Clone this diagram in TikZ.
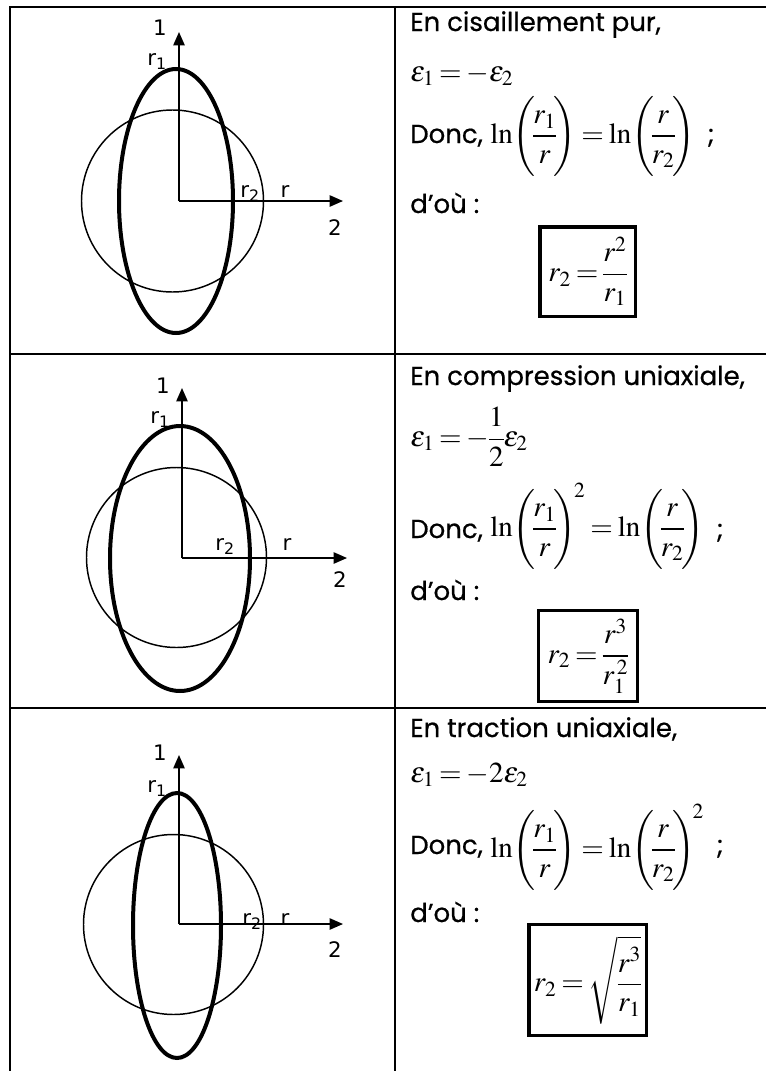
\documentclass[tikz,border=0pt]{standalone}
\usepackage{amsmath}
\usepackage{graphicx}
\usepackage{mathptmx}
\usepackage[no-math]{fontspec}
\setmainfont{Poppins}[UprightFeatures={FakeBold=0.6}]
\newfontfamily\lblfont{DejaVu Sans}
\usetikzlibrary{arrows.meta,calc}
\newcommand{\lpar}{\mathopen{\vcenter{\hbox{\scalebox{1}[0.92]{$\Biggl($}}}}\mkern-1.5mu}
\newcommand{\rpar}{\mkern-1.5mu\mathclose{\vcenter{\hbox{\scalebox{1}[0.92]{$\Biggr)$}}}}}
\newcommand{\tightmath}{\thickmuskip=3mu plus 1mu\relax\medmuskip=2mu\relax\nulldelimiterspace=0pt\relax}
\tikzset{
  tbl/.style={line width=1.5pt},
  circ/.style={line width=1.1pt},
  ell/.style={line width=3pt},
  axis/.style={line width=1.1pt,-{Triangle[length=10pt,width=8.5pt]}},
  lbl/.style={anchor=base,inner sep=0pt,font=\lblfont\fontsize{16}{19}\selectfont},
  txt/.style={anchor=base west,inner sep=0pt,font=\fontsize{19.5}{23}\selectfont},
  mth/.style={anchor=west,inner sep=0pt,font=\fontsize{21.75}{26}\selectfont},
  resbox/.style={draw,line width=2.6pt,inner sep=0pt,font=\fontsize{21.75}{26}\selectfont}
}
\begin{document}
\begin{tikzpicture}[x=0.75pt,y=-0.75pt]
\useasboundingbox (0,0) rectangle (766,1071);
% table
\coordinate (tl) at (10,7); \coordinate (tr) at (766,7);
\coordinate (bl) at (10,1071);
\coordinate (mt) at (395,7); \coordinate (mb) at (395,1071);
\coordinate (s1l) at (10,354); \coordinate (s1r) at (766,354);
\coordinate (s2l) at (10,708); \coordinate (s2r) at (766,708);
\draw[tbl] (tr) -- (tl) -- (bl);
\draw[tbl] (mt) -- (mb);
\draw[tbl] (s1l) -- (s1r);
\draw[tbl] (s2l) -- (s2r);

% ---------- panel 1 ----------
\draw[circ] (172.5,201) circle[radius=91*0.75pt];
\draw[ell] (176,201) ellipse[x radius=57*0.75pt, y radius=132*0.75pt];
\coordinate (o1) at (179,201); \coordinate (v1) at (179,32); \coordinate (h1) at (343,201);
\draw[axis] (o1) -- (v1);
\draw[axis] (o1) -- (h1);
\node[lbl] (a1) at (160,35) {1};
\node[lbl] (rA1) at (157,65) {r\textsubscript{1}};
\node[lbl] (rB1) at (250,197) {r\textsubscript{2}};
\node[lbl] (rC1) at (285,197) {r};
\node[lbl] (b1) at (335,235) {2};

\node[txt] (t11) at (410,31) {En cisaillement pur,};
\node[mth] (t12) at (410,75) {\tightmath$\varepsilon_1=-\varepsilon_2$};
\node[txt] (t13) at (410,143) {Donc,};
\node[mth] (m13) at (490,136) {\tightmath$\ln\lpar\dfrac{r_1}{r}\rpar=\ln\lpar\dfrac{r}{r_2}\rpar$};
\node[txt] (s13) at ($(m13.east)+(12,7)$) {;};
\node[txt] (t14) at (410,213) {d’où :};
\node[resbox, minimum width=71.6pt, minimum height=67.1pt] (R1) at (587.5,271.5) {\tightmath$r_2=\dfrac{r^2}{r_1}$};

% ---------- panel 2 ----------
\draw[circ] (176.5,557.5) circle[radius=90*0.75pt];
\draw[ell] (180,558.5) ellipse[x radius=70*0.75pt, y radius=132.5*0.75pt];
\coordinate (o2) at (182,558); \coordinate (v2) at (182,388); \coordinate (h2) at (347,558);
\draw[axis] (o2) -- (v2);
\draw[axis] (o2) -- (h2);
\node[lbl] (a2) at (163,393) {1};
\node[lbl] (rA2) at (160,423) {r\textsubscript{1}};
\node[lbl] (rB2) at (225,550) {r\textsubscript{2}};
\node[lbl] (rC2) at (287,550) {r};
\node[lbl] (b2) at (340,587) {2};

\node[txt] (t21) at (410,385) {En compression uniaxiale,};
\node[mth] (t22) at (410,437) {\tightmath$\varepsilon_1=-\dfrac{1}{2}\varepsilon_2$};
\node[txt] (t23) at (410,538) {Donc,};
\node[mth] (m23) at (490,526) {\tightmath$\ln\lpar\dfrac{r_1}{r}\rpar^{\!2}=\ln\lpar\dfrac{r}{r_2}\rpar$};
\node[txt] (s23) at ($(m23.east)+(12,12)$) {;};
\node[txt] (t24) at (410,600) {d’où :};
\node[resbox, minimum width=73.9pt, minimum height=68.6pt] (R2) at (588,656) {\tightmath$r_2=\dfrac{r^3}{r_1^{\,2}}$};

% ---------- panel 3 ----------
\draw[circ] (173.5,924.5) circle[radius=90*0.75pt];
\draw[ell] (177,925.5) ellipse[x radius=44*0.75pt, y radius=132.5*0.75pt];
\coordinate (o3) at (179,924); \coordinate (v3) at (179,755); \coordinate (h3) at (343,924);
\draw[axis] (o3) -- (v3);
\draw[axis] (o3) -- (h3);
\node[lbl] (a3) at (160,760) {1};
\node[lbl] (rA3) at (157,792) {r\textsubscript{1}};
\node[lbl] (rB3) at (252,925) {r\textsubscript{2}};
\node[lbl] (rC3) at (285,925) {r};
\node[lbl] (b3) at (335,957) {2};

\node[txt] (t31) at (410,737) {En traction uniaxiale,};
\node[mth] (t32) at (410,775) {\tightmath$\varepsilon_1=-2\varepsilon_2$};
\node[txt] (t33) at (410,854) {Donc,};
\node[mth] (m33) at (490,847) {\tightmath$\ln\lpar\dfrac{r_1}{r}\rpar=\ln\lpar\dfrac{r}{r_2}\rpar^{\!2}$};
\node[txt] (s33) at ($(m33.east)+(12,7)$) {;};
\node[txt] (t34) at (410,922) {d’où :};
\node[resbox, minimum width=88.1pt, minimum height=82.9pt] (R3) at (587.5,980) {\tightmath$r_2=\sqrt{\dfrac{r^3}{r_1}}$};
\end{tikzpicture}
\end{document}
